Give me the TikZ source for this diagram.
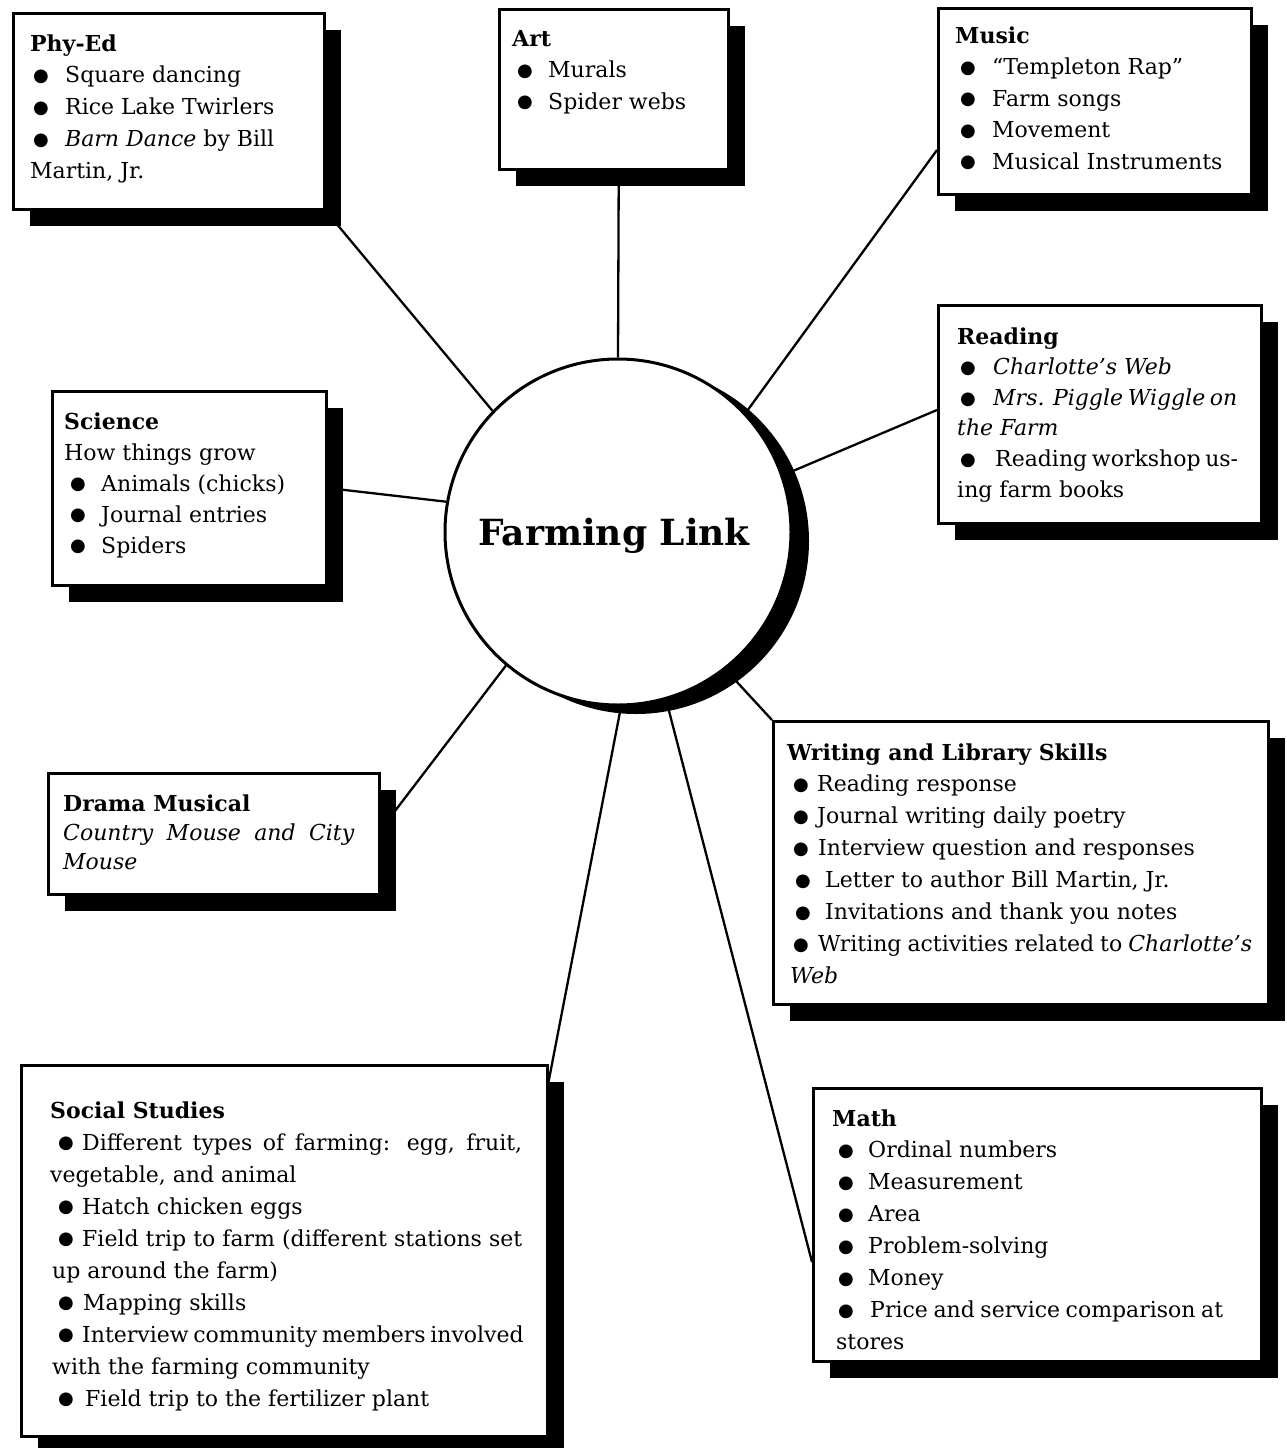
\documentclass[tikz,border=0pt]{standalone}
\usepackage{fontspec}
\setmainfont{DejaVu Serif}
\newfontfamily\symf{DejaVu Sans}
\usetikzlibrary{shadows,calc}
\pgfdeclarelayer{bg}
\pgfsetlayers{bg,main}
\newcommand\bul{\raisebox{1.2pt}{\symf\fontsize{18}{18}\selectfont ●}}
\newcommand\Ln[1]{\hbox{#1}}
\newcommand\It[3]{\hbox{\kern#1pt\rlap{\bul}\kern\dimexpr#2pt-#1pt\relax #3}}
\newcommand\Itj[4]{\hbox to #4pt{\kern#1pt\rlap{\bul}\kern\dimexpr#2pt-#1pt\relax #3}}
\newcommand\Blk[2]{\vtop{\baselineskip=#1pt\lineskip=0pt\lineskiplimit=-100pt #2}}
\tikzset{
  box/.style={draw, line width=2.5pt, fill=white, inner sep=0pt,
    anchor=north west,
    drop shadow={shadow xshift=17pt, shadow yshift=-17pt, fill=black, opacity=1}},
  txt/.style={inner sep=0pt, anchor=base west, font=\fontsize{22}{32}\selectfont},
  hub/.style={circle, draw, line width=3pt, fill=white, inner sep=0pt,
    minimum size=346pt,
    drop shadow={shadow xshift=18pt, shadow yshift=-9pt, fill=black, opacity=1}},
  link/.style={line width=2.3pt}
}
\begin{document}
\begin{tikzpicture}[x=1pt,y=-1pt]
\path[use as bounding box] (0,0) rectangle (1287,1448);
\begin{pgfonlayer}{bg}
\fill[white] (0,0) rectangle (1287,1448);
\end{pgfonlayer}

% boxes
\node[box, minimum width=311pt, minimum height=196pt] (phy) at (12,12) {};
\node[box, minimum width=229pt, minimum height=160pt] (art) at (498,8) {};
\node[box, minimum width=313pt, minimum height=186pt] (music) at (937,7) {};
\node[box, minimum width=323pt, minimum height=218pt] (reading) at (937,304) {};
\node[box, minimum width=274pt, minimum height=194pt] (science) at (51,390) {};
\node[box, minimum width=331pt, minimum height=121pt] (drama) at (47,772) {};
\node[box, minimum width=495pt, minimum height=283pt] (writing) at (772,720) {};
\node[box, minimum width=526pt, minimum height=371pt] (social) at (20,1064) {};
\node[box, minimum width=448pt, minimum height=273pt] (math) at (812,1087) {};

% hub
\node[hub] (circ) at (618,532) {};
\node[inner sep=0pt, anchor=base, font=\bfseries\fontsize{36}{40}\selectfont] (hubtxt) at (614,545) {Farming Link};

% connector ends on boxes
\coordinate (phyA) at (phy.south east);
\coordinate (artA) at ([xshift=5pt]art.south);
\coordinate (musA) at ([yshift=-143pt]music.north west);
\coordinate (reaA) at ([yshift=-106pt]reading.north west);
\coordinate (sciA) at ([yshift=-98pt]science.north east);
\coordinate (draA) at ([yshift=-58pt]drama.north east);
\coordinate (wriA) at (writing.north west);
\coordinate (socA) at ([yshift=-18pt]social.north east);
\coordinate (matA) at ([yshift=-175pt]math.north west);

\begin{pgfonlayer}{bg}
\draw[link] (phyA) -- (circ.136.4);
\draw[link] (artA) -- (circ.90);
\draw[link] (musA) -- (circ.43.4);
\draw[link] (reaA) -- (circ.19.9);
\draw[link] (sciA) -- (circ.170);
\draw[link] (draA) -- (circ.230.3);
\draw[link] (wriA) -- (circ.-52.5);
\draw[link] (socA) -- (circ.-89.6);
\draw[link] (matA) -- (circ.-74.6);
\end{pgfonlayer}

% texts
\node[txt] (phyt) at (30,51) {\Blk{31.8}{%
\Ln{\bfseries Phy-Ed}
\It{3}{35}{Square dancing}
\It{3}{35}{Rice Lake Twirlers}
\It{3}{35}{\textit{Barn Dance} by Bill}
\Ln{Martin, Jr.}}};

\node[txt] (artt) at (512,46) {\Blk{31.5}{%
\Ln{\bfseries Art}
\It{5}{36}{Murals}
\It{5}{36}{Spider webs}}};

\node[txt] (must) at (955,43) {\Blk{31.5}{%
\Ln{\bfseries Music}
\It{5}{37}{“Templeton Rap”}
\It{5}{37}{Farm songs}
\It{5}{37}{Movement}
\It{5}{37}{Musical Instruments}}};

\node[txt] (reat) at (957,344) {\Blk{30.6}{%
\Ln{\bfseries Reading}
\It{3}{36}{\itshape Charlotte’s Web}
\Itj{3}{36}{\itshape Mrs. Piggle Wiggle on}{276}
\Ln{\itshape the Farm}
\Itj{3}{38}{Reading workshop us-}{277}
\Ln{ing farm books}}};

\node[txt] (scit) at (64,429) {\Blk{31}{%
\Ln{\bfseries Science}
\Ln{How things grow}
\It{6}{37}{Animals (chicks)}
\It{6}{37}{Journal entries}
\It{6}{37}{Spiders}}};

\node[txt] (drat) at (63,811) {\Blk{29}{%
\Ln{\bfseries Drama Musical}
\hbox to 291pt{\itshape Country Mouse and City}
\Ln{\itshape Mouse}}};

\node[txt] (writ) at (787,760) {\Blk{31.9}{%
\Ln{\bfseries Writing and Library Skills}
\It{6}{30}{Reading response}
\It{6}{30}{Journal writing daily poetry}
\It{6}{31}{Interview question and responses}
\It{8}{38}{Letter to author Bill Martin, Jr.}
\It{8}{38}{Invitations and thank you notes}
\Itj{6}{31}{Writing activities related to \textit{Charlotte’s}}{465}
\Ln{\kern3pt\itshape Web}}};

\node[txt] (soct) at (50,1118) {\Blk{32}{%
\Ln{\bfseries Social Studies}
\Itj{8}{32}{Different types of farming: egg, fruit,}{472}
\Ln{vegetable, and animal}
\It{8}{32}{Hatch chicken eggs}
\Itj{8}{32}{Field trip to farm (different stations set}{472}
\Ln{\kern2pt up around the farm)}
\It{8}{33}{Mapping skills}
\Itj{8}{32}{Interview community members involved}{473}
\Ln{\kern2pt with the farming community}
\It{8}{35}{Field trip to the fertilizer plant}}};

\node[txt] (matt) at (832,1126) {\Blk{31.9}{%
\Ln{\bfseries Math}
\It{6}{36}{Ordinal numbers}
\It{6}{36}{Measurement}
\It{6}{36}{Area}
\It{6}{36}{Problem-solving}
\It{6}{36}{Money}
\Itj{6}{38}{Price and service comparison at}{391}
\Ln{\kern4pt stores}}};
\end{tikzpicture}
\end{document}
